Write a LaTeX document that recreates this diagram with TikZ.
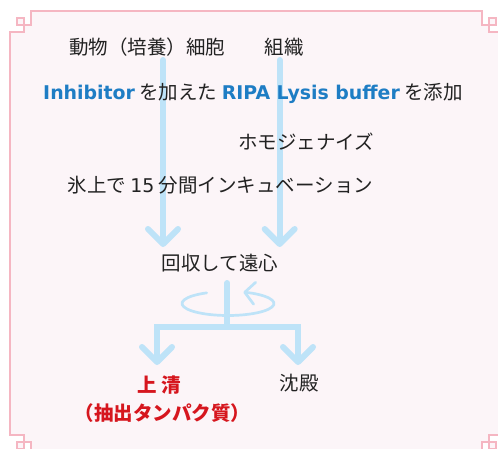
\documentclass[tikz,border=0pt]{standalone}
\usepackage{fontspec}
\setmainfont{Noto Sans CJK JP}
\newfontfamily\lat{DejaVu Sans}[Scale=0.97]
\usetikzlibrary{arrows.meta}
\definecolor{framepink}{RGB}{245,182,194}
\definecolor{bgpink}{RGB}{252,245,248}
\definecolor{flowblue}{RGB}{190,227,248}
\definecolor{txtblue}{RGB}{30,125,196}
\definecolor{txtred}{RGB}{214,22,30}
\definecolor{txt}{RGB}{34,34,34}
\begin{document}
\begin{tikzpicture}[x=1pt,y=-1pt,
  lbl/.style={font=\fontsize{19.5}{22}\selectfont, text=txt, inner sep=0pt},
  redlbl/.style={font=\fontsize{19.5}{22}\selectfont\bfseries, text=txtred, inner sep=0pt},
  flowline/.style={draw=flowblue, line width=6pt, line cap=round, line join=round},
  flow/.style={flowline, -{Straight Barb[length=15pt, width=30pt, round]}},
  ring/.style={draw=flowblue, line width=2.7pt, line cap=round, -{Straight Barb[length=10pt, width=22pt, round]}},
  frameline/.style={draw=framepink, line width=1.3pt}
]
\useasboundingbox (0,0) rectangle (498,448);
% frame
\path[fill=bgpink, frameline]
 (10,32) -- (24,32) -- (24,18) -- (17,18) -- (17,25) -- (31,25) -- (31,11)
 -- (482,11) -- (482,25) -- (496,25) -- (496,18) -- (489,18) -- (489,32) -- (503,32)
 -- (503,435) -- (489,435) -- (489,449) -- (496,449) -- (496,442) -- (482,442) -- (482,456)
 -- (31,456) -- (31,442) -- (17,442) -- (17,449) -- (24,449) -- (24,435) -- (10,435) -- cycle;

% coordinates
\coordinate (a1s) at (163,60);
\coordinate (a1e) at (163,247);
\coordinate (a2s) at (279.7,60);
\coordinate (a2e) at (279.7,247);
\coordinate (st) at (227.3,283);
\coordinate (sb) at (227.3,326.7);
\coordinate (bl) at (157,326.7);
\coordinate (br) at (298,326.7);
\coordinate (tl) at (157,365);
\coordinate (tr) at (298,365);
\coordinate (rc) at (228,303.5);

% flow arrows
\draw[flow] (a1s) -- (a1e);
\draw[flow] (a2s) -- (a2e);
\draw[flowline] (st) -- (sb);
\draw[flowline, line join=miter, {Straight Barb[length=15pt, width=30pt, round]}-{Straight Barb[length=15pt, width=30pt, round]}] (tl) -- (bl) -- (br) -- (tr);
\draw[ring] (rc) ++(242.4:46 and 12) arc[start angle=242.4, end angle=-70.5, x radius=46, y radius=12];

% texts
\node[lbl] (cell) at (147,47) {動物（培養）細胞};
\node[lbl] (tissue) at (284,47) {組織};
\node[lbl] (buf) at (253,93) {{\lat\bfseries\color{txtblue}Inhibitor} を加えた {\lat\bfseries\color{txtblue}RIPA Lysis buffer} を添加};
\node[lbl] (homo) at (306,142) {ホモジェナイズ};
\node[lbl] (ice) at (220.3,185) {氷上で {\lat 15} 分間インキュベーション};
\node[lbl] (cent) at (220,263) {回収して遠心};
\node[redlbl] (sup) at (159.5,385) {上 清};
\node[redlbl] (supx) at (162.5,413) {（抽出タンパク質）};
\node[lbl] (ppt) at (299,383) {沈殿};
\end{tikzpicture}
\end{document}
